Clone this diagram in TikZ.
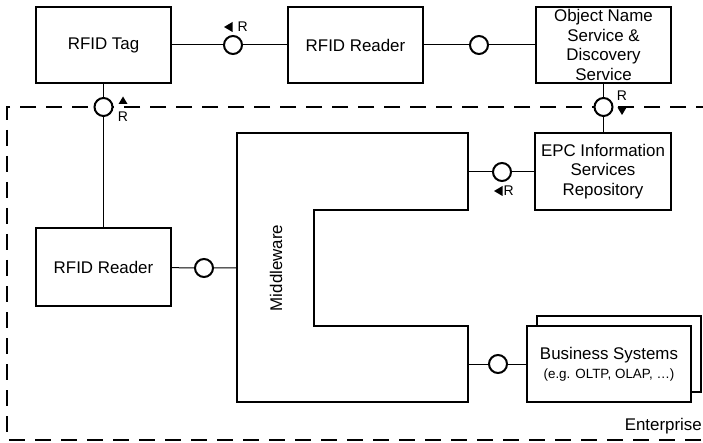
\documentclass[tikz,border=0pt]{standalone}
\usepackage{fontspec}
\setmainfont{Liberation Sans}
\begin{document}
\begin{tikzpicture}[x=1pt,y=-1pt,
  box/.style={draw,line width=2pt,fill=white,align=center,inner sep=0pt,
    font=\fontsize{16.9}{19.7}\selectfont},
  iface/.style={circle,draw,line width=2pt,fill=white,minimum size=18pt,inner sep=0pt},
  conn/.style={line width=1pt},
  rlab/.style={font=\fontsize{14}{16}\selectfont,inner sep=0pt},
  tri/.style={fill=black},
  bound/.style={line width=2pt,dash pattern=on 16pt off 10pt}]
\useasboundingbox (0,0) rectangle (703,443);
% enterprise boundary
\draw[bound] (712,107) -- (7,107) -- (7,440) -- (712,440);
\node[font=\fontsize{16.9}{19.7}\selectfont,anchor=base east,inner sep=0pt] (ent) at (702,430) {Enterprise};
% boxes
\node[box,minimum width=135pt,minimum height=76pt] (tag) at (103.5,45) {RFID Tag};
\node[box,minimum width=135pt,minimum height=76pt] (rt) at (355.5,45) {RFID Reader};
\node[box,minimum width=135pt,minimum height=76pt] (ons) at (603.5,45) {Object Name\\Service \&\\Discovery\\Service};
\node[box,minimum width=136pt,minimum height=77pt] (epc) at (603,171.5) {EPC Information\\Services\\Repository};
\node[box,minimum width=135pt,minimum height=78pt] (rl) at (103.5,267) {RFID Reader};
\node[box,minimum width=164pt,minimum height=76pt] (bsb) at (619,354) {};
\node[box,minimum width=164pt,minimum height=76pt] (bs) at (609,364) {Business Systems\\[-1pt]{\fontsize{13.4}{15}\selectfont (e.g. OLTP, OLAP, …)}};
% middleware
\draw[line width=2pt,fill=white] (237,133) -- (468,133) -- (468,210) -- (314,210) -- (314,326)
  -- (468,326) -- (468,402) -- (237,402) -- cycle;
\node[rotate=90,font=\fontsize{16.9}{19.7}\selectfont,inner sep=0pt] (mwt) at (276,268) {Middleware};
\coordinate (mwL) at (237,268);
\coordinate (mwR1) at (468,172);
\coordinate (mwR2) at (468,364);
% interfaces
\node[iface] (c1) at (233,45) {};
\node[iface] (c2) at (479,45) {};
\node[iface] (c3) at (103.5,107) {};
\node[iface] (c4) at (603.5,107) {};
\node[iface] (c5) at (502,172) {};
\node[iface] (c6) at (204,268) {};
\node[iface] (c7) at (498,364) {};
% connectors
\draw[conn] (tag) -- (c1) -- (rt);
\draw[conn] (rt) -- (c2) -- (ons);
\draw[conn] (tag) -- (c3) -- (rl);
\draw[conn] (ons.south -| c4) -- (c4) -- (c4 |- epc.north);
\draw[conn] (mwR1) -- (c5) -- (epc.west |- c5);
\draw[conn] (rl) -- (c6) -- (mwL);
\draw[conn] (mwR2) -- (c7) -- (bs.west |- c7);
% R labels
\fill[tri] (224,27) -- (232.5,22) -- (232.5,32) -- cycle;
\node[rlab,anchor=west] (r1) at (237.5,27) {R};
\fill[tri] (123,96.5) -- (118.5,104) -- (127.5,104) -- cycle;
\node[rlab] (r3) at (123,117) {R};
\fill[tri] (622,115) -- (617.5,107.5) -- (626.5,107.5) -- cycle;
\node[rlab] (r4) at (622,96) {R};
\fill[tri] (494,191) -- (502.5,186) -- (502.5,196) -- cycle;
\node[rlab,anchor=west] (r5) at (503.5,191) {R};
\end{tikzpicture}
\end{document}
